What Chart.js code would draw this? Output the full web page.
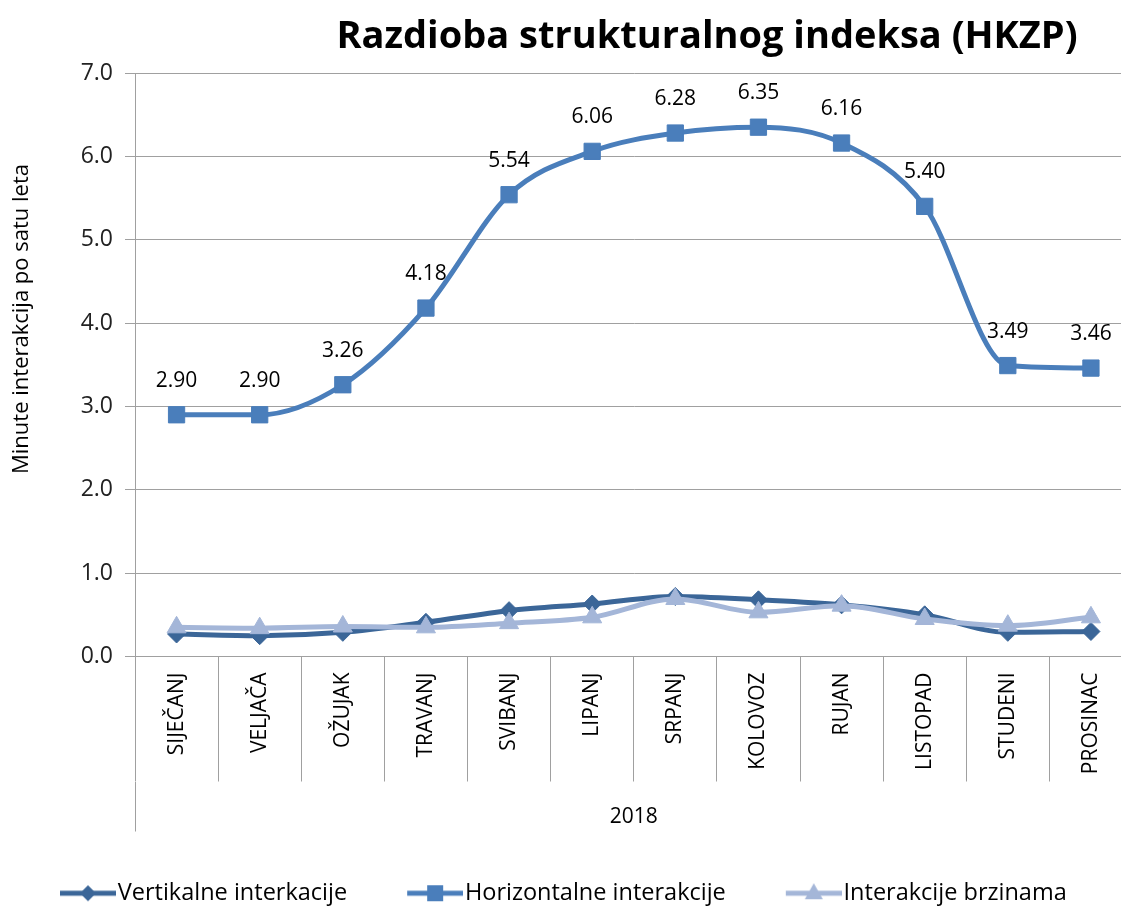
<!DOCTYPE html>
<html>
<head>
<meta charset="utf-8">
<script src="https://cdn.jsdelivr.net/npm/chart.js@4.4.1/dist/chart.umd.min.js"></script>
<style>
  html, body { margin: 0; padding: 0; background: #fff; overflow: hidden; }
  #wrap { width: 1121px; height: 908px; overflow: hidden; position: relative; }
  #box { width: 1145px; height: 908px; position: absolute; left: 0; top: 0; }
</style>
</head>
<body>
<div id="wrap"><div id="box"><canvas id="chart"></canvas></div></div>
<script>
// Razdioba strukturalnog indeksa (HKZP), 2018
var months = ['SIJEČANJ', 'VELJAČA', 'OŽUJAK', 'TRAVANJ', 'SVIBANJ', 'LIPANJ',
  'SRPANJ', 'KOLOVOZ', 'RUJAN', 'LISTOPAD', 'STUDENI', 'PROSINAC'];
var yearLabels = ['2018'];
var vertical = [0.27, 0.25, 0.29, 0.41, 0.55, 0.63, 0.72, 0.68, 0.62, 0.50, 0.29, 0.30];
var horizontal = [2.90, 2.90, 3.26, 4.18, 5.54, 6.06, 6.28, 6.35, 6.16, 5.40, 3.49, 3.46];
var speed = [0.35, 0.34, 0.36, 0.35, 0.40, 0.47, 0.69, 0.53, 0.61, 0.45, 0.37, 0.47];
var seriesNames = ['Vertikalne interkacije', 'Horizontalne interakcije', 'Interakcije brzinama'];
var yTicks = [0, 1, 2, 3, 4, 5, 6, 7];

var DARK = '#3b6698';
var MID = '#4a7ebb';
var LIGHT = '#a4b6d8';
var GRID = '#a0a0a0';
var FONT = "'Open Sans', sans-serif";

// legend icon sizes: blank gap in front, line of LINE px; the image overhangs
// the point-style box by OVER px on each side so the line reaches the text
var GAP = 60, LINE = 56, OVER = 10;
var ICON_W = LINE + GAP - OVER;

function legendIcon(color, shape) {
  var c = document.createElement('canvas');
  var w = ICON_W + 2 * OVER, h = 22, x0 = GAP + OVER, cx = x0 + LINE / 2, cy = h / 2;
  c.width = w; c.height = h;
  var g = c.getContext('2d');
  g.strokeStyle = color; g.fillStyle = color; g.lineWidth = 5;
  g.beginPath(); g.moveTo(x0, cy); g.lineTo(w, cy); g.stroke();
  g.beginPath();
  if (shape === 'diamond') {
    g.moveTo(cx, cy - 8); g.lineTo(cx + 8, cy); g.lineTo(cx, cy + 8); g.lineTo(cx - 8, cy);
  } else if (shape === 'square') {
    g.rect(cx - 8, cy - 8, 16, 16);
  } else {
    g.moveTo(cx, cy - 10); g.lineTo(cx + 9, cy + 6); g.lineTo(cx - 9, cy + 6);
  }
  g.closePath(); g.fill();
  return c;
}

var icons = [legendIcon(DARK, 'diamond'), legendIcon(MID, 'square'), legendIcon(LIGHT, 'triangle')];

var titlesPlugin = {
  id: 'titles',
  afterDraw: function (chart) {
    var ctx = chart.ctx;
    ctx.save();
    ctx.fillStyle = '#000';
    ctx.textAlign = 'center';
    ctx.textBaseline = 'middle';
    ctx.font = "bold 38px " + FONT;
    ctx.fillText('Razdioba strukturalnog indeksa (HKZP)', 707, 37);
    ctx.translate(22, 319);
    ctx.rotate(-Math.PI / 2);
    ctx.font = "22px " + FONT;
    ctx.fillText('Minute interakcija po satu leta', 0, 0);
    ctx.restore();
  }
};

var valueLabels = {
  id: 'valueLabels',
  afterDatasetsDraw: function (chart) {
    var ctx = chart.ctx;
    var meta = chart.getDatasetMeta(1);
    ctx.save();
    ctx.fillStyle = '#000';
    ctx.textAlign = 'center';
    ctx.textBaseline = 'middle';
    ctx.font = "21px " + FONT;
    meta.data.forEach(function (pt, i) {
      ctx.fillText(horizontal[i].toFixed(2), pt.x, pt.y - 34);
    });
    ctx.restore();
  }
};

var chart = new Chart(document.getElementById('chart').getContext('2d'), {
  type: 'line',
  data: {
    labels: months,
    datasets: [
      {
        label: seriesNames[0], data: vertical, order: 2,
        borderColor: DARK, backgroundColor: DARK, borderWidth: 5, cubicInterpolationMode: 'monotone',
        pointStyle: 'rectRot', pointRadius: 9, pointBorderWidth: 1
      },
      {
        label: seriesNames[1], data: horizontal, order: 1,
        borderColor: MID, backgroundColor: MID, borderWidth: 5, cubicInterpolationMode: 'monotone',
        pointStyle: 'rect', pointRadius: 11.5, pointBorderWidth: 1
      },
      {
        label: seriesNames[2], data: speed, order: 0,
        borderColor: LIGHT, backgroundColor: LIGHT, borderWidth: 5, cubicInterpolationMode: 'monotone',
        pointStyle: 'triangle', pointRadius: 11, pointBorderWidth: 1
      }
    ]
  },
  options: {
    responsive: true,
    maintainAspectRatio: false,
    animation: false,
    layout: { padding: { top: 73, right: 10, left: 0, bottom: -7 } },
    plugins: {
      title: { display: false },
      tooltip: { enabled: false },
      legend: {
        position: 'bottom',
        align: 'start',
        labels: {
          usePointStyle: true,
          pointStyleWidth: ICON_W,
          padding: 0,
          color: '#000',
          font: { family: FONT, size: 23.5 },
          generateLabels: function (ch) {
            return ch.data.datasets.map(function (ds, i) {
              return {
                text: ds.label, pointStyle: icons[i], fontColor: '#000',
                fillStyle: ds.borderColor, strokeStyle: ds.borderColor,
                lineWidth: 0, hidden: false, datasetIndex: i
              };
            });
          }
        }
      }
    },
    scales: {
      y: {
        min: 0, max: 7,
        afterBuildTicks: function (s) { s.ticks = yTicks.map(function (v) { return { value: v }; }); },
        afterFit: function (s) { s.width = 135; },
        grid: { color: GRID, tickLength: 10 },
        border: { color: GRID },
        ticks: {
          padding: 12, color: '#222', font: { family: FONT, size: 23 },
          callback: function (v) { return Number(v).toFixed(1); }
        }
      },
      x: {
        offset: true,
        afterFit: function (s) { s.height = 125; },
        grid: { drawOnChartArea: false, offset: true, tickLength: 125, color: GRID },
        border: { color: GRID },
        ticks: {
          autoSkip: false, minRotation: 90, maxRotation: 90, padding: -109,
          color: '#000', font: { family: FONT, size: 21 }
        }
      },
      x2: {
        type: 'category', labels: yearLabels, position: 'bottom', offset: true,
        afterFit: function (s) { s.height = 100; },
        grid: { drawOnChartArea: false, offset: true, tickLength: 50, color: GRID },
        border: { display: false },
        ticks: { padding: -27, maxRotation: 0, color: '#000', font: { family: FONT, size: 21 } }
      }
    }
  },
  plugins: [titlesPlugin, valueLabels]
});
</script>
</body>
</html>
